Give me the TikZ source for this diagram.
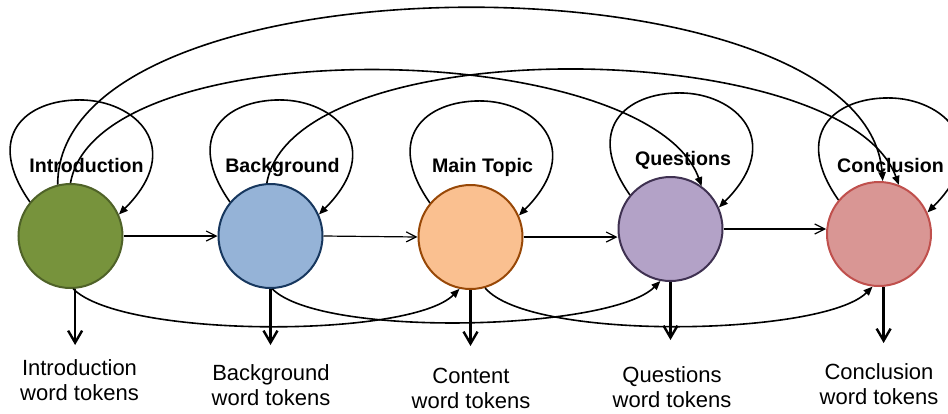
\documentclass[tikz,border=0pt]{standalone}
\usepackage{fontspec}
\setmainfont{Liberation Sans}
\usetikzlibrary{arrows.meta}
\definecolor{introfill}{HTML}{77933C}
\definecolor{introline}{HTML}{4F6228}
\definecolor{backfill}{HTML}{95B3D7}
\definecolor{backline}{HTML}{17375E}
\definecolor{mainfill}{HTML}{FAC090}
\definecolor{mainline}{HTML}{984807}
\definecolor{quesfill}{HTML}{B3A2C7}
\definecolor{quesline}{HTML}{3F3151}
\definecolor{conclfill}{HTML}{D99694}
\definecolor{conclline}{HTML}{C0504D}

\begin{document}
\begin{tikzpicture}[x=0.5pt, y=0.5pt,
                          topicnode/.style={circle, draw, line width=1pt, minimum size=52pt, inner sep=0pt},
                          titlenode/.style={font=\fontsize{9.8}{11}\selectfont\bfseries, inner sep=0pt, anchor=base},
                          tokennode/.style={font=\fontsize{11}{12.5}\selectfont, align=center, inner sep=0pt, anchor=north},
                          loopline/.style={line width=0.8pt, -{Triangle[length=4.5pt,width=3.6pt]}},
                          nextline/.style={line width=0.6pt, -{Straight Barb[length=5pt,width=5pt]}},
                          emitline/.style={line width=1.2pt, -{Straight Barb[length=6pt,width=7pt]}},
                      ]
                      \useasboundingbox (0,0) rectangle (948,-413);
                      % Nodes
                      \node[topicnode, fill=introfill, draw=introline]  (intro)       at (70.5,-236)  {};
                      \node[topicnode, fill=backfill, draw=backline]    (backgr)      at (270.5,-236) {};
                      \node[topicnode, fill=mainfill, draw=mainline]    (main_topic)  at (470.5,-237) {};
                      \node[topicnode, fill=quesfill, draw=quesline]    (questions)   at (670.5,-229) {};
                      \node[topicnode, fill=conclfill, draw=conclline]  (concl)       at (879,-234)   {};

                      \node[titlenode]  (lbl_intro)   at (86.5,-172)  {Introduction};
                      \node[titlenode]  (lbl_backgr)  at (282.5,-172) {Background};
                      \node[titlenode]  (lbl_main)    at (482.5,-172) {Main Topic};
                      \node[titlenode]  (lbl_ques)    at (683,-165)   {Questions};
                      \node[titlenode]  (lbl_concl)   at (890.5,-172) {Conclusion};

                      \node[tokennode]  (tok_intro)   at (79.5,-359)  {Introduction\\word tokens};
                      \node[tokennode]  (tok_backgr)  at (271,-364)   {Background\\word tokens};
                      \node[tokennode]  (tok_main)    at (471,-368)   {Content\\word tokens};
                      \node[tokennode]  (tok_ques)    at (672,-366)   {Questions\\word tokens};
                      \node[tokennode]  (tok_concl)   at (879,-363)   {Conclusion\\word tokens};

                      %Self loops
                      \foreach \topic in {intro, backgr, main_topic, questions, concl}
                          \draw[loopline] (\topic.140) .. controls +(125:80) and +(180:55) .. ++(50,102)
                                                      .. controls +(0:55) and +(45:95) .. (\topic.24);

                      %Lines
                      \draw[nextline] (intro.east) -- (backgr.west);
                      \draw[nextline] (backgr.east) -- (main_topic.west);
                      \draw[nextline] (main_topic.east) -- (main_topic.east -| questions.west);
                      \draw[nextline] (questions.east) -- (questions.east -| concl.west);

                      \draw[loopline] (intro.104) .. controls +(90:235) and +(94:231) .. (concl.86);
                      \draw[loopline] (intro.90) .. controls +(80:158) and +(110:158) .. (questions.54);
                      \draw[loopline] (backgr.94) .. controls +(80:158) and +(110:158) .. (concl.68);

                      \draw[loopline] (intro.-87) .. controls +(-45:70) and +(-135:70) .. (main_topic.-102);
                      \draw[loopline] (backgr.-88) .. controls +(-45:70) and +(-135:70) .. (questions.-101);
                      \draw[loopline] (main_topic.-74) .. controls +(-50:70) and +(-135:70) .. (concl.-97);

                      \draw[emitline, shorten >=7pt] (intro.-85) -- (intro.-85 |- tok_intro.north);
                      \draw[emitline, shorten >=9.5pt] (backgr.south) -- (backgr.south |- tok_backgr.north);
                      \draw[emitline, shorten >=11pt] (main_topic.south) -- (main_topic.south |- tok_main.north);
                      \draw[emitline, shorten >=13pt] (questions.south) -- (questions.south |- tok_ques.north);
                      \draw[emitline, shorten >=10pt] (concl.-85) -- (concl.-85 |- tok_concl.north);
                  \end{tikzpicture}
\end{document}
